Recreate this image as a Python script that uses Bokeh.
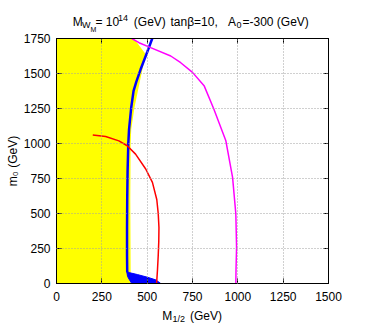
from bokeh.plotting import figure
from bokeh.models import Range1d, FixedTicker, LinearAxis, Label
from bokeh.layouts import column
from bokeh.embed import file_html
from bokeh.resources import INLINE

# ---- data (M_1/2 [GeV], m_0 [GeV]) ----
x_ticks = [0, 250, 500, 750, 1000, 1250, 1500]
y_ticks = [0, 250, 500, 750, 1000, 1250, 1500, 1750]

yellow_M = [0, 409, 409, 407, 409, 412, 430, 468, 492, 427, 0]
yellow_m0 = [0, 0, 80, 600, 1000, 1100, 1257, 1494, 1637, 1750, 1750]

blue_line_M = [528, 501, 464, 440, 425, 412, 400, 396, 392, 390, 389, 389, 390]
blue_line_m0 = [1750, 1655, 1530, 1440, 1376, 1257, 1100, 1000, 800, 600, 400, 200, 80]

blue_band_M = [387, 400, 446, 501, 547, 575, 415, 405, 392]
blue_band_m0 = [88, 78, 64, 45, 26, 0, 0, 20, 50]

red_M = [200, 271, 344, 390, 436, 492, 529, 553, 561, 565, 564, 561, 557, 552]
red_m0 = [1060, 1050, 1019, 984, 924, 818, 722, 600, 500, 400, 300, 200, 100, 0]

magenta_M = [415, 455, 519, 630, 685, 750, 815, 867, 934, 971, 989, 993, 990, 989]
magenta_m0 = [1750, 1720, 1685, 1625, 1577, 1508, 1410, 1248, 1019, 758, 497, 259, 100, 0]

FONT = "Liberation Sans"
TOTAL_W = 366
TITLE_H = 32
MAIN_H = 274
XLAB_H = 20
FL = 56   # frame left (shared by all figures in the column)
FR = 38   # right border

# ---- main plot ----
p = figure(width=TOTAL_W, height=MAIN_H, output_backend="svg", toolbar_location=None,
           x_range=Range1d(0, 1500), y_range=Range1d(0, 1750),
           min_border_left=FL, min_border_right=FR, min_border_top=6, min_border_bottom=23)
p.background_fill_color = "white"
p.border_fill_color = "white"
p.outline_line_color = "black"
p.outline_line_width = 1

for ax in (p.xaxis[0], p.yaxis[0]):
    ax.major_tick_in = 5
    ax.major_tick_out = 0
    ax.minor_tick_in = 0
    ax.minor_tick_out = 0
    ax.axis_line_color = "black"
    ax.major_tick_line_color = "black"
    ax.major_label_text_font = FONT
    ax.major_label_text_font_size = "12px"
    ax.major_label_text_color = "black"
p.xaxis[0].ticker = FixedTicker(ticks=x_ticks)
p.yaxis[0].ticker = FixedTicker(ticks=y_ticks)
p.xaxis[0].major_label_standoff = 8
p.yaxis[0].major_label_standoff = 6

p.yaxis[0].axis_label = "m₀ (GeV)"
p.yaxis[0].axis_label_text_font = FONT
p.yaxis[0].axis_label_text_font_size = "12px"
p.yaxis[0].axis_label_text_font_style = "normal"
p.yaxis[0].axis_label_text_color = "black"
p.yaxis[0].axis_label_standoff = 1

# mirrored ticks on top and right
top_ax = LinearAxis(ticker=FixedTicker(ticks=x_ticks),
                    major_label_overrides={t: "" for t in x_ticks})
right_ax = LinearAxis(ticker=FixedTicker(ticks=y_ticks),
                      major_label_overrides={t: "" for t in y_ticks})
for ax in (top_ax, right_ax):
    ax.major_tick_in = 5
    ax.major_tick_out = 0
    ax.minor_tick_in = 0
    ax.minor_tick_out = 0
    ax.axis_line_color = "black"
    ax.major_tick_line_color = "black"
    ax.major_label_text_font_size = "1px"
    ax.major_label_standoff = 0
p.add_layout(top_ax, "above")
p.add_layout(right_ax, "right")

p.xgrid.ticker = FixedTicker(ticks=x_ticks)
p.ygrid.ticker = FixedTicker(ticks=y_ticks)
for g in (p.xgrid, p.ygrid):
    g.grid_line_color = "#a0a0a0"
    g.grid_line_dash = "1 2"
    g.grid_line_width = 1
    g.level = "annotation"

p.patch(yellow_M, yellow_m0, fill_color="#ffff00", line_color=None)
p.patch(blue_band_M, blue_band_m0, fill_color="#0000ff", line_color="#0000ff", line_width=1)
p.line(blue_line_M, blue_line_m0, line_color="#0000ff", line_width=2.5)
p.line(red_M, red_m0, line_color="#ff0000", line_width=1.5)
p.line(magenta_M, magenta_m0, line_color="#ff00ff", line_width=1.5)


# ---- text panels (frames aligned with the main plot's frame) ----
def text_fig(h):
    f = figure(width=TOTAL_W, height=h, output_backend="svg", toolbar_location=None,
               x_range=Range1d(0, 1), y_range=Range1d(0, 1),
               x_axis_type=None, y_axis_type=None,
               min_border_left=FL, min_border_right=FR, min_border_top=0, min_border_bottom=0)
    f.outline_line_color = None
    f.background_fill_color = "white"
    f.border_fill_color = "white"
    f.grid.visible = False
    return f


def lab(f, px, y, text, size):
    # px: page x; screen x is measured from the frame's left edge
    f.add_layout(Label(x=px - FL, y=y, x_units="screen", y_units="screen",
                       text=text, text_font=FONT,
                       text_font_size=f"{size}px", text_color="black",
                       text_align="left", text_baseline="alphabetic"))


# title (page y -> TITLE_H - y)
tf = text_fig(TITLE_H)
lab(tf, 72.3, TITLE_H - 21.3, "M", 12)
lab(tf, 81.5, TITLE_H - 24.5, "W", 9)
lab(tf, 90.0, TITLE_H - 29.0, "M", 7)
lab(tf, 95.0, TITLE_H - 21.3, "= 10", 12)
lab(tf, 117.5, TITLE_H - 17.0, "14", 9)
lab(tf, 133.3, TITLE_H - 21.3, "(GeV)", 12)
lab(tf, 170.0, TITLE_H - 21.3, "tanβ=10,", 12)
lab(tf, 227.5, TITLE_H - 21.3, "A", 12)
lab(tf, 236.0, TITLE_H - 24.5, "0", 9)
lab(tf, 242.0, TITLE_H - 21.3, "=-300 (GeV)", 12)

# x label (page y 306..326)
xf = text_fig(XLAB_H)
lab(xf, 161.7, XLAB_H - 9.0, "M", 12)
lab(xf, 172.0, XLAB_H - 12.0, "1/2", 9)
lab(xf, 189.5, XLAB_H - 9.0, "(GeV)", 12)

layout = column(tf, p, xf)
open("out.html", "w").write(file_html(layout, INLINE))
